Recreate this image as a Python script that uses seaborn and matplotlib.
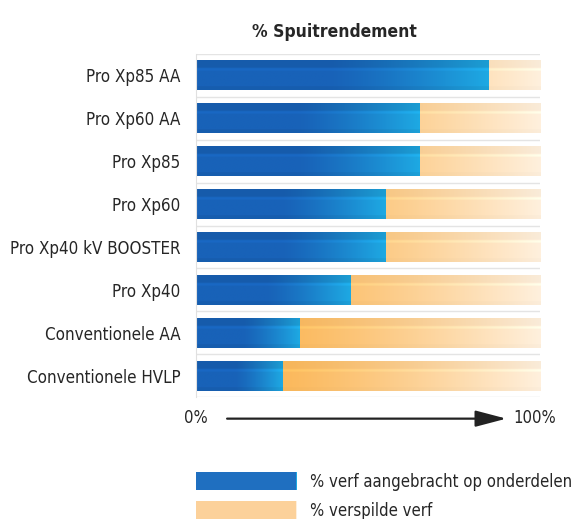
import numpy as np
import pandas as pd
import seaborn as sns
import matplotlib.pyplot as plt
from matplotlib.colors import to_rgb
from matplotlib.patches import Patch

categories = ['Pro Xp85 AA', 'Pro Xp60 AA', 'Pro Xp85', 'Pro Xp60',
              'Pro Xp40 kV BOOSTER', 'Pro Xp40', 'Conventionele AA',
              'Conventionele HVLP']
applied = [85, 65, 65, 55, 55, 45, 30, 25]
wasted = [100 - a for a in applied]

sns.set_style('white')
plt.rcParams['font.family'] = ['DejaVu Sans']
plt.rcParams['font.stretch'] = 'condensed'

df = pd.DataFrame({'model': categories, 'applied': applied,
                   'total': [a + w for a, w in zip(applied, wasted)]})

fig = plt.figure(figsize=(5.74, 5.19), dpi=100)
ax = fig.add_axes([0.341, 0.235, 0.600, 0.661])

sns.barplot(data=df, x='total', y='model', color='#fcc77c', width=0.7, ax=ax)
sns.barplot(data=df, x='applied', y='model', color='#1f6fc0', width=0.7, ax=ax)


def gradient(c0, c1, knee, top=0.93, n=160, m=40, bevel=True):
    c0, c1 = np.array(to_rgb(c0)), np.array(to_rgb(c1))
    t = np.linspace(0, 1, n)
    t = np.clip((t - knee) / (1 - knee), 0, 1) ** 1.3
    img = c0 * (1 - t[None, :, None]) + c1 * t[None, :, None]
    img = np.repeat(img, m, axis=0)
    if not bevel:
        return img
    v = np.linspace(0, 1, m)
    shade = np.where(v < 0.28, top, 1.0)
    shade = shade + np.where((v > 0.3) & (v < 0.36), 0.06, 0.0)
    shade = shade - np.where(v > 0.88, (1 - top) * 0.7, 0.0)
    return np.clip(img * shade[:, None, None], 0, 1)


blue_grad = ('#1862b8', '#1ea9e3', 0.45)
orange_grad = ('#fbb553', '#fff0dd', 0.15)

n = len(categories)
for i, p in enumerate(ax.patches):
    x, y, w, h = p.get_x(), p.get_y(), p.get_width(), p.get_height()
    if i < n:
        img = gradient(*orange_grad, top=0.98)
    else:
        img = gradient(*blue_grad)
    im = ax.imshow(img, extent=[x, x + w, y + h, y], aspect='auto',
                   interpolation='bilinear', zorder=p.get_zorder() + 0.1)
    im.set_clip_path(p)

# row separators
for k in range(n + 1):
    ax.axhline(k - 0.5, color='#e4e4e4', lw=1, zorder=0)

ax.set_xlim(0, 100)
ax.set_ylim(n - 0.5, -0.5)
ax.set_xlabel('')
ax.set_ylabel('')
ax.set_xticks([])
ax.tick_params(axis='y', length=0, labelsize=12.2, pad=11)
for s in ['top', 'right', 'bottom']:
    ax.spines[s].set_visible(False)
ax.spines['left'].set_color('#e0e0e0')
ax.set_title('% Spuitrendement', fontsize=12.5, fontweight='bold', pad=12,
             x=0.404)

ax.text(0, -0.06, '0%', transform=ax.transAxes, ha='center', va='center',
        fontsize=12)
ax.text(0.985, -0.06, '100%', transform=ax.transAxes, ha='center',
        va='center', fontsize=12)
ax.annotate('', xy=(0.91, -0.063), xytext=(0.083, -0.063),
            xycoords='axes fraction',
            arrowprops=dict(arrowstyle='-|>,head_length=1.9,head_width=0.5',
                            color='#222222', lw=1.6))

handles = [Patch(facecolor='#1f6fc0', edgecolor='none'),
           Patch(facecolor='#fcd19a', edgecolor='none')]
leg = fig.legend(handles, ['% verf aangebracht op onderdelen',
                           '% verspilde verf'],
                 loc='lower left', bbox_to_anchor=(0.316, -0.03),
                 frameon=False, handlelength=6.0, handleheight=1.35,
                 handletextpad=0.8, labelspacing=0.6, fontsize=12)

# paint the legend swatches with the same gradients
fig.canvas.draw()
inv = fig.transFigure.inverted()
for patch, g in zip(leg.get_patches(), [blue_grad, orange_grad]):
    bb = patch.get_window_extent().transformed(inv)
    lax = fig.add_axes([bb.x0, bb.y0, bb.width, bb.height])
    lax.imshow(gradient(*g, bevel=False), aspect='auto',
               interpolation='bilinear')
    lax.axis('off')

fig.savefig('out.png', dpi=100)
